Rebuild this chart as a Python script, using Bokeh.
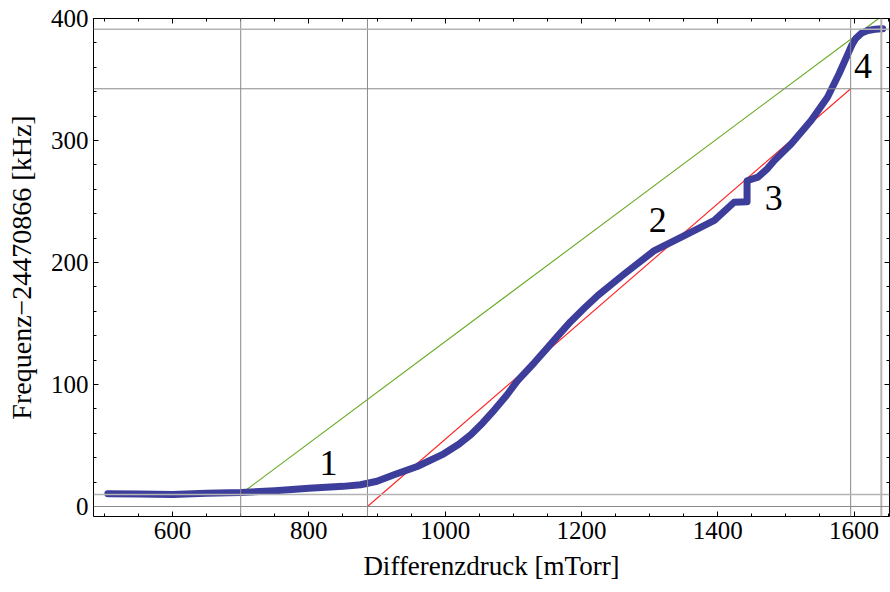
from bokeh.plotting import figure
from bokeh.models import Span, LinearAxis, Range1d, SingleIntervalTicker, ColumnDataSource, CustomJSTickFormatter
from bokeh.core.properties import value
from bokeh.embed import file_html
from bokeh.resources import INLINE

# measured curve: Differenzdruck [mTorr] vs Frequenz offset [kHz]
pressure = [505, 550, 600, 650, 700, 750, 800, 850, 876, 900, 925, 959, 998, 1020, 1038,
            1055, 1072, 1090, 1106, 1131, 1150, 1168, 1184, 1204, 1224, 1263, 1307, 1351, 1395,
            1424, 1443, 1443, 1459, 1473, 1483, 1508, 1537, 1561, 1578, 1591, 1597, 1603, 1611,
            1620, 1631, 1642]
freq = [10.5, 10.2, 9.8, 10.8, 11.5, 13.0, 15.0, 16.5, 17.8, 20.7, 26.0, 32.8, 43.2, 51.0, 59.0,
        68.5, 79.0, 91.0, 103.0, 118.0, 130.0, 141.5, 151.5, 162.5, 173.0, 190.7, 209.8, 222.0,
        234.5, 249.4, 249.8, 267.0, 270.0, 277.0, 283.6, 297.3, 316.4, 335.5, 354.7, 371.0,
        378.5, 384.0, 388.0, 390.2, 391.2, 391.6]

green_x = [703, 1636]
green_y = [11.5, 400]
red_x = [886, 1595]
red_y = [0, 342.4]

vlines_dark = [700, 886, 1595]
vlines_light = [1640]
hlines_dark = [0, 342.4]
hlines_light = [9.8, 391.2]

region_labels = ["1", "2", "3", "4"]
region_x = [829, 1312, 1482, 1613]
region_y = [36, 235, 253, 361]

FONT = "Liberation Serif"

p = figure(width=890, height=592, x_range=Range1d(484, 1652), y_range=Range1d(-8.2, 400),
           output_backend="svg", toolbar_location=None,
           min_border_left=93, min_border_right=1, min_border_top=18, min_border_bottom=76)
p.grid.visible = False
p.outline_line_color = None
p.background_fill_color = "white"
p.border_fill_color = "white"

for v in vlines_dark:
    p.add_layout(Span(location=v, dimension="height", line_color="#8a8a8a", line_width=1))
for v in vlines_light:
    p.add_layout(Span(location=v, dimension="height", line_color="#b4b4b4", line_width=2))
for h in hlines_dark:
    p.add_layout(Span(location=h, dimension="width", line_color="#8a8a8a", line_width=1))
for h in hlines_light:
    p.add_layout(Span(location=h, dimension="width", line_color="#b4b4b4", line_width=1.5))

p.line(green_x, green_y, line_color="#66aa22", line_width=1.1)
p.line(red_x, red_y, line_color="#ff2222", line_width=1.1)
p.line(pressure, freq, line_color="#3d3d9b", line_width=7, line_cap="round", line_join="round")

src = ColumnDataSource(dict(x=region_x, y=region_y, t=region_labels))
p.text("x", "y", text="t", source=src, text_font=value(FONT), text_font_size="36px",
       text_align="center", text_baseline="middle", text_color="black")

def style(ax, labels=True):
    ax.axis_line_color = "black"
    ax.axis_line_width = 1
    ax.major_tick_line_color = "black"
    ax.minor_tick_line_color = "black"
    ax.major_tick_in = 5
    ax.major_tick_out = 0
    ax.minor_tick_in = 3
    ax.minor_tick_out = 0
    ax.major_label_text_font = FONT
    ax.major_label_text_color = "black"
    ax.major_label_text_font_size = "25px"
    ax.axis_label_text_font = FONT
    ax.axis_label_text_font_style = "normal"
    ax.axis_label_text_color = "black"
    ax.axis_label_text_font_size = "27px"
    if not labels:
        ax.formatter = CustomJSTickFormatter(code="return '';")
        ax.major_label_standoff = 0

p.xaxis.ticker = SingleIntervalTicker(interval=200, num_minor_ticks=4)
p.yaxis.ticker = SingleIntervalTicker(interval=100, num_minor_ticks=5)
style(p.xaxis[0])
style(p.yaxis[0])
p.xaxis.axis_label = "Differenzdruck [mTorr]"
p.yaxis.axis_label = "Frequenz\u221224470866 [kHz]"
p.yaxis.axis_label_text_font_size = "28px"
p.xaxis.major_label_standoff = 5
p.xaxis.axis_label_standoff = 9
p.yaxis.major_label_standoff = 5
p.yaxis.axis_label_standoff = 11

top = LinearAxis(ticker=SingleIntervalTicker(interval=200, num_minor_ticks=4))
style(top, labels=False)
p.add_layout(top, "above")
right = LinearAxis(ticker=SingleIntervalTicker(interval=100, num_minor_ticks=5))
style(right, labels=False)
p.add_layout(right, "right")

open("out.html", "w").write(file_html(p, INLINE))
